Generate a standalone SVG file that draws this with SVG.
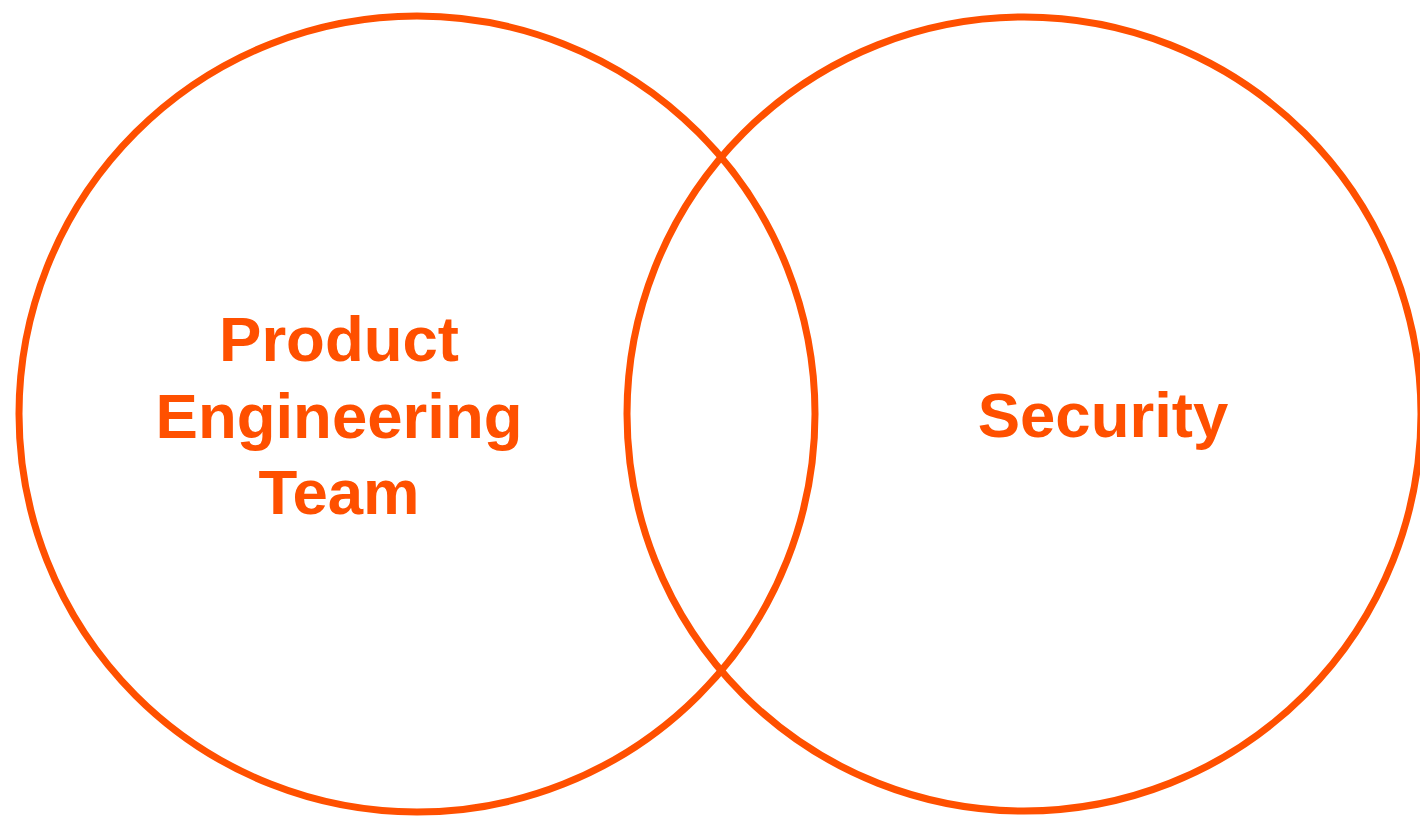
<svg xmlns="http://www.w3.org/2000/svg" width="1420" height="816" viewBox="0 0 1420 816">
  <style>
    .ring { fill: none; stroke: #FF5000; stroke-width: 7; }
    .label { fill: #FF5000; font-family: "Liberation Sans", Arial, sans-serif; font-weight: bold; font-size: 63.5px; text-anchor: middle; }
  </style>
  <rect width="1420" height="816" fill="#FFFFFF"/>
  <g id="product-engineering">
    <circle class="ring" cx="417" cy="414" r="398"/>
    <text class="label" x="339" y="361">Product</text>
    <text class="label" x="339" y="438">Engineering</text>
    <text class="label" x="339" y="514">Team</text>
  </g>
  <g id="security">
    <circle class="ring" cx="1024" cy="414" r="397"/>
    <text class="label" x="1103" y="437">Security</text>
  </g>
  <g id="connectors"></g>
</svg>
